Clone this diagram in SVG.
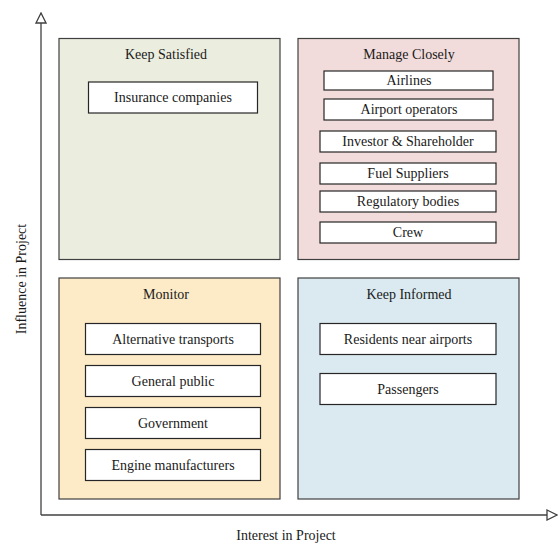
<svg xmlns="http://www.w3.org/2000/svg" width="558" height="547" viewBox="0 0 558 547">
  <style>
    .quad { stroke: #404040; stroke-width: 1.2; }
    .item { fill: #ffffff; stroke: #262626; stroke-width: 1.2; }
    .axis { fill: none; stroke: #404040; stroke-width: 1.3; }
    text { font-family: "Liberation Serif", "Times New Roman", serif; font-size: 14px; fill: #1a1a1a; text-anchor: middle; }
  </style>
  <defs>
    <marker id="openArrow" viewBox="0 0 12 12" refX="11" refY="6" markerWidth="12" markerHeight="12" markerUnits="userSpaceOnUse" orient="auto">
      <path d="M1,1 L11,6 L1,11 Z" fill="#ffffff" stroke="#404040" stroke-width="1.3"/>
    </marker>
  </defs>

  <!-- axes -->
  <g id="axes">
    <path class="axis" d="M41,515 V13" marker-end="url(#openArrow)"/>
    <path class="axis" d="M41,515 H557" marker-end="url(#openArrow)"/>
    <text x="21" y="279" transform="rotate(-90 21 279)" dy="5">Influence in Project</text>
    <text x="286" y="540">Interest in Project</text>
  </g>

  <!-- high influence, low interest -->
  <g id="keep-satisfied">
    <rect class="quad" x="59" y="38.5" width="221" height="221" fill="#ebeedf"/>
    <text x="166" y="59">Keep Satisfied</text>
    <g id="insurance-companies">
      <rect class="item" x="88.5" y="82" width="169" height="31"/>
      <text x="173" y="102">Insurance companies</text>
    </g>
  </g>

  <!-- high influence, high interest -->
  <g id="manage-closely">
    <rect class="quad" x="298" y="38.5" width="221" height="221" fill="#f2dcdb"/>
    <text x="409" y="59">Manage Closely</text>
    <g id="airlines">
      <rect class="item" x="324" y="71" width="169" height="19"/>
      <text x="409" y="85">Airlines</text>
    </g>
    <g id="airport-operators">
      <rect class="item" x="324" y="99" width="169" height="21"/>
      <text x="409" y="114">Airport operators</text>
    </g>
    <g id="investor-shareholder">
      <rect class="item" x="320" y="131" width="176" height="21"/>
      <text x="408" y="146">Investor &amp; Shareholder</text>
    </g>
    <g id="fuel-suppliers">
      <rect class="item" x="320" y="163" width="176" height="21"/>
      <text x="408" y="178">Fuel Suppliers</text>
    </g>
    <g id="regulatory-bodies">
      <rect class="item" x="320" y="191" width="176" height="21"/>
      <text x="408" y="206">Regulatory bodies</text>
    </g>
    <g id="crew">
      <rect class="item" x="320" y="222" width="176" height="21"/>
      <text x="408" y="237">Crew</text>
    </g>
  </g>

  <!-- low influence, low interest -->
  <g id="monitor">
    <rect class="quad" x="59" y="278" width="221" height="221" fill="#fdebc8"/>
    <text x="166" y="299">Monitor</text>
    <g id="alternative-transports">
      <rect class="item" x="85.5" y="323.5" width="175" height="31"/>
      <text x="173" y="344">Alternative transports</text>
    </g>
    <g id="general-public">
      <rect class="item" x="85.5" y="365.5" width="175" height="31"/>
      <text x="173" y="386">General public</text>
    </g>
    <g id="government">
      <rect class="item" x="85.5" y="407.5" width="175" height="31"/>
      <text x="173" y="428">Government</text>
    </g>
    <g id="engine-manufacturers">
      <rect class="item" x="85.5" y="449.5" width="175" height="31"/>
      <text x="173" y="470">Engine manufacturers</text>
    </g>
  </g>

  <!-- low influence, high interest -->
  <g id="keep-informed">
    <rect class="quad" x="298" y="278" width="221" height="221" fill="#dbeaf1"/>
    <text x="409" y="299">Keep Informed</text>
    <g id="residents-near-airports">
      <rect class="item" x="320" y="323.5" width="176" height="31"/>
      <text x="408" y="344">Residents near airports</text>
    </g>
    <g id="passengers">
      <rect class="item" x="320" y="373.5" width="176" height="31"/>
      <text x="408" y="394">Passengers</text>
    </g>
  </g>
</svg>
